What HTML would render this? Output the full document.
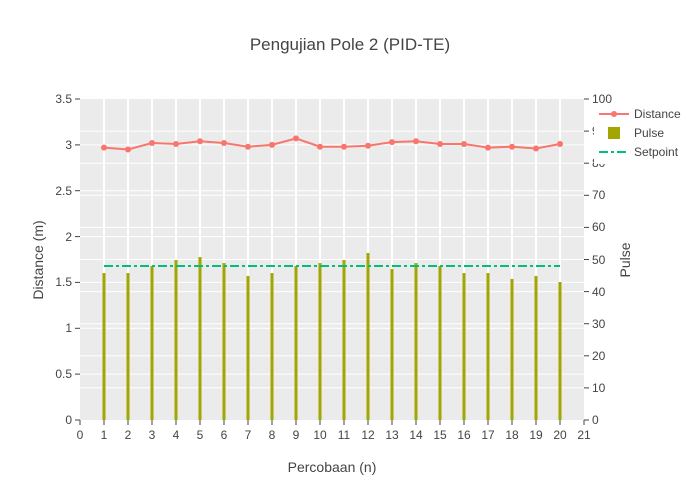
<!DOCTYPE html>
<html><head><meta charset="utf-8"><style>body{margin:0;background:#fff}svg{display:block}text{font-family:"Liberation Sans",sans-serif;fill:#444}</style></head><body>
<svg width="700" height="500" viewBox="0 0 700 500">
<rect x="80" y="99" width="504" height="321" fill="#ebebeb"/>
<g stroke="#fff" stroke-width="1">
<line x1="80" x2="584" y1="374.1" y2="374.1"/><line x1="80" x2="584" y1="328.3" y2="328.3"/><line x1="80" x2="584" y1="282.4" y2="282.4"/><line x1="80" x2="584" y1="236.6" y2="236.6"/><line x1="80" x2="584" y1="190.7" y2="190.7"/><line x1="80" x2="584" y1="144.9" y2="144.9"/>
<line x1="80" x2="584" y1="387.9" y2="387.9"/><line x1="80" x2="584" y1="355.8" y2="355.8"/><line x1="80" x2="584" y1="323.7" y2="323.7"/><line x1="80" x2="584" y1="291.6" y2="291.6"/><line x1="80" x2="584" y1="259.5" y2="259.5"/><line x1="80" x2="584" y1="227.4" y2="227.4"/><line x1="80" x2="584" y1="195.3" y2="195.3"/><line x1="80" x2="584" y1="163.2" y2="163.2"/><line x1="80" x2="584" y1="131.1" y2="131.1"/>
</g>
<g stroke="#fff" stroke-width="2">
<line y1="99" y2="420" x1="104" x2="104"/><line y1="99" y2="420" x1="128" x2="128"/><line y1="99" y2="420" x1="152" x2="152"/><line y1="99" y2="420" x1="176" x2="176"/><line y1="99" y2="420" x1="200" x2="200"/><line y1="99" y2="420" x1="224" x2="224"/><line y1="99" y2="420" x1="248" x2="248"/><line y1="99" y2="420" x1="272" x2="272"/><line y1="99" y2="420" x1="296" x2="296"/><line y1="99" y2="420" x1="320" x2="320"/><line y1="99" y2="420" x1="344" x2="344"/><line y1="99" y2="420" x1="368" x2="368"/><line y1="99" y2="420" x1="392" x2="392"/><line y1="99" y2="420" x1="416" x2="416"/><line y1="99" y2="420" x1="440" x2="440"/><line y1="99" y2="420" x1="464" x2="464"/><line y1="99" y2="420" x1="488" x2="488"/><line y1="99" y2="420" x1="512" x2="512"/><line y1="99" y2="420" x1="536" x2="536"/><line y1="99" y2="420" x1="560" x2="560"/>
</g>
<g fill="#a3a500">
<rect x="102.5" y="273" width="3" height="147"/><rect x="126.5" y="273" width="3" height="147"/><rect x="150.5" y="266" width="3" height="154"/><rect x="174.5" y="260" width="3" height="160"/><rect x="198.5" y="257" width="3" height="163"/><rect x="222.5" y="263" width="3" height="157"/><rect x="246.5" y="276" width="3" height="144"/><rect x="270.5" y="273" width="3" height="147"/><rect x="294.5" y="266" width="3" height="154"/><rect x="318.5" y="263" width="3" height="157"/><rect x="342.5" y="260" width="3" height="160"/><rect x="366.5" y="253" width="3" height="167"/><rect x="390.5" y="269" width="3" height="151"/><rect x="414.5" y="263" width="3" height="157"/><rect x="438.5" y="266" width="3" height="154"/><rect x="462.5" y="273" width="3" height="147"/><rect x="486.5" y="273" width="3" height="147"/><rect x="510.5" y="279" width="3" height="141"/><rect x="534.5" y="276" width="3" height="144"/><rect x="558.5" y="282" width="3" height="138"/>
</g>
<line x1="104" x2="560" y1="266" y2="266" stroke="#00bf7d" stroke-width="2" stroke-dasharray="9,3,3,3"/>
<polyline fill="none" stroke="#f8766d" stroke-width="2" points="104,147.6 128,149.5 152,143 176,144 200,141.2 224,143 248,146.7 272,144.9 296,138.4 320,146.7 344,146.7 368,145.8 392,142.1 416,141.2 440,144 464,144 488,147.6 512,146.7 536,148.5 560,144"/>
<g fill="#f8766d">
<circle cx="104" cy="147.6" r="3"/><circle cx="128" cy="149.5" r="3"/><circle cx="152" cy="143" r="3"/><circle cx="176" cy="144" r="3"/><circle cx="200" cy="141.2" r="3"/><circle cx="224" cy="143" r="3"/><circle cx="248" cy="146.7" r="3"/><circle cx="272" cy="144.9" r="3"/><circle cx="296" cy="138.4" r="3"/><circle cx="320" cy="146.7" r="3"/><circle cx="344" cy="146.7" r="3"/><circle cx="368" cy="145.8" r="3"/><circle cx="392" cy="142.1" r="3"/><circle cx="416" cy="141.2" r="3"/><circle cx="440" cy="144" r="3"/><circle cx="464" cy="144" r="3"/><circle cx="488" cy="147.6" r="3"/><circle cx="512" cy="146.7" r="3"/><circle cx="536" cy="148.5" r="3"/><circle cx="560" cy="144" r="3"/>
</g>
<g stroke="#444" stroke-width="1">
<line x1="75" x2="80" y1="420" y2="420"/><line x1="75" x2="80" y1="374.1" y2="374.1"/><line x1="75" x2="80" y1="328.3" y2="328.3"/><line x1="75" x2="80" y1="282.4" y2="282.4"/><line x1="75" x2="80" y1="236.6" y2="236.6"/><line x1="75" x2="80" y1="190.7" y2="190.7"/><line x1="75" x2="80" y1="144.9" y2="144.9"/><line x1="75" x2="80" y1="99" y2="99"/>
<line x1="584" x2="589" y1="420" y2="420"/><line x1="584" x2="589" y1="387.9" y2="387.9"/><line x1="584" x2="589" y1="355.8" y2="355.8"/><line x1="584" x2="589" y1="323.7" y2="323.7"/><line x1="584" x2="589" y1="291.6" y2="291.6"/><line x1="584" x2="589" y1="259.5" y2="259.5"/><line x1="584" x2="589" y1="227.4" y2="227.4"/><line x1="584" x2="589" y1="195.3" y2="195.3"/><line x1="584" x2="589" y1="163.2" y2="163.2"/><line x1="584" x2="589" y1="131.1" y2="131.1"/><line x1="584" x2="589" y1="99" y2="99"/>
<line y1="420" y2="425" x1="80" x2="80"/><line y1="420" y2="425" x1="104" x2="104"/><line y1="420" y2="425" x1="128" x2="128"/><line y1="420" y2="425" x1="152" x2="152"/><line y1="420" y2="425" x1="176" x2="176"/><line y1="420" y2="425" x1="200" x2="200"/><line y1="420" y2="425" x1="224" x2="224"/><line y1="420" y2="425" x1="248" x2="248"/><line y1="420" y2="425" x1="272" x2="272"/><line y1="420" y2="425" x1="296" x2="296"/><line y1="420" y2="425" x1="320" x2="320"/><line y1="420" y2="425" x1="344" x2="344"/><line y1="420" y2="425" x1="368" x2="368"/><line y1="420" y2="425" x1="392" x2="392"/><line y1="420" y2="425" x1="416" x2="416"/><line y1="420" y2="425" x1="440" x2="440"/><line y1="420" y2="425" x1="464" x2="464"/><line y1="420" y2="425" x1="488" x2="488"/><line y1="420" y2="425" x1="512" x2="512"/><line y1="420" y2="425" x1="536" x2="536"/><line y1="420" y2="425" x1="560" x2="560"/><line y1="420" y2="425" x1="584" x2="584"/>
</g>
<g font-size="12" text-anchor="end">
<text x="72" y="424">0</text><text x="72" y="378">0.5</text><text x="72" y="332">1</text><text x="72" y="286">1.5</text><text x="72" y="241">2</text><text x="72" y="195">2.5</text><text x="72" y="149">3</text><text x="72" y="103">3.5</text>
</g>
<g font-size="12">
<text x="592" y="424">0</text><text x="592" y="392">10</text><text x="592" y="360">20</text><text x="592" y="328">30</text><text x="592" y="296">40</text><text x="592" y="264">50</text><text x="592" y="231">60</text><text x="592" y="199">70</text><text x="592" y="167">80</text><text x="592" y="135">90</text><text x="592" y="103">100</text>
</g>
<g font-size="12" text-anchor="middle">
<text x="80" y="439">0</text><text x="104" y="439">1</text><text x="128" y="439">2</text><text x="152" y="439">3</text><text x="176" y="439">4</text><text x="200" y="439">5</text><text x="224" y="439">6</text><text x="248" y="439">7</text><text x="272" y="439">8</text><text x="296" y="439">9</text><text x="320" y="439">10</text><text x="344" y="439">11</text><text x="368" y="439">12</text><text x="392" y="439">13</text><text x="416" y="439">14</text><text x="440" y="439">15</text><text x="464" y="439">16</text><text x="488" y="439">17</text><text x="512" y="439">18</text><text x="536" y="439">19</text><text x="560" y="439">20</text><text x="584" y="439">21</text>
</g>
<text x="350" y="50" font-size="17" text-anchor="middle">Pengujian Pole 2 (PID-TE)</text>
<text x="332" y="472" font-size="14" text-anchor="middle">Percobaan (n)</text>
<text transform="translate(43,260) rotate(-90)" font-size="14" text-anchor="middle">Distance (m)</text>
<text transform="translate(630,260) rotate(-90)" font-size="14" text-anchor="middle">Pulse</text>
<rect x="594" y="104" width="106" height="60" fill="#fff"/>
<line x1="599" x2="629" y1="114" y2="114" stroke="#f8766d" stroke-width="2"/><circle cx="614" cy="114" r="3" fill="#f8766d"/>
<rect x="608" y="127" width="12" height="12" fill="#a3a500"/>
<line x1="599" x2="629" y1="152" y2="152" stroke="#00bf7d" stroke-width="2" stroke-dasharray="9,3,3,3"/>
<g font-size="12"><text x="634" y="118">Distance</text><text x="634" y="137">Pulse</text><text x="634" y="156">Setpoint</text></g>
</svg>
</body></html>
